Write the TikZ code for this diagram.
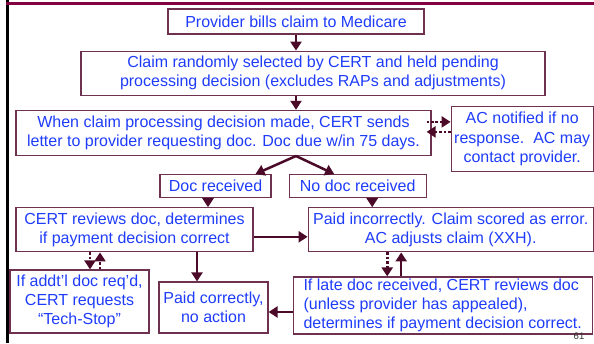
\documentclass[tikz,border=0pt]{standalone}
\usepackage{fontspec}
\setmainfont{Liberation Sans}
\usepackage{xcolor}
\usetikzlibrary{positioning,arrows.meta}
\definecolor{textblue}{RGB}{30,60,250}
\definecolor{boxline}{RGB}{110,50,80}
\definecolor{arrowcol}{RGB}{75,10,40}
\definecolor{barcol}{RGB}{128,0,64}
\tikzset{
  >={Triangle[width=11pt,length=9pt]},
}

\begin{document}
\begin{tikzpicture}[x=1pt,y=-1pt]
  \tikzset{
      action/.style={rectangle, draw=boxline, line width=1.2pt, text=textblue, inner sep=0pt, align=center, font=\fontsize{16}{19.3}\selectfont},
      myarrow/.style={draw=arrowcol, line width=2.5pt, ->},
      dotarrow/.style={myarrow, line width=2.8pt, dash pattern=on 2.6pt off 1.8pt},
  }
  \useasboundingbox (0,0) rectangle (594,343);
  % slide frame
  \draw[black, line width=3pt] (7.5,0) -- (7.5,343);
  \draw[barcol, line width=3pt] (6,3.5) -- (594,3.5);

  \node[action, minimum width=256pt, minimum height=25pt] (item1) at (296,21.5) {Provider bills claim to Medicare};
  \node[action, minimum width=464pt, minimum height=44pt, below=16pt of item1, xshift=17pt] (item2) {Claim randomly selected by CERT and held pending\\processing decision (excludes RAPs and adjustments)};
  \node[action, minimum width=415pt, minimum height=45pt, below=14pt of item2, xshift=-89.5pt] (item3) {When claim processing decision made, CERT sends\\letter to provider requesting doc. Doc due w/in 75 days.};
    \node[action, minimum width=142pt, minimum height=65pt, right=19pt of item3, yshift=-6pt] (item4) {AC notified if no\\response.\ \ AC may\\contact provider.};

  \node[action, minimum width=111pt, minimum height=23pt, below=18pt of item3, xshift=-8pt] (item5) {Doc received};
  \node[action, minimum width=137pt, minimum height=23pt, right=17pt of item5] (item6) {No doc received};

  \node[action, minimum width=237pt, minimum height=44pt, below=9pt of item5, xshift=-81pt] (item7) {CERT reviews doc, determines\\if payment decision correct};
  \node[action, minimum width=285pt, minimum height=44pt, below=9pt of item6, xshift=93pt] (item8) {Paid incorrectly. Claim scored as error.\\AC adjusts claim (XXH).};

    \node[action, minimum width=139pt, minimum height=63pt, below=17pt of item7, xshift=-55pt] (item9) {If addt'l doc req'd,\\CERT requests\\``Tech-Stop''};
    \node[action, minimum width=109pt, minimum height=51pt, below=29pt of item7, xshift=79pt] (item10) {Paid correctly,\\no action};
    \node[action, minimum width=299pt, minimum height=57pt, below=24pt of item8, xshift=-8pt, align=left] (item11) {If late doc received, CERT reviews doc\\(unless provider has appealed),\\determines if payment decision correct.};

  \node[font=\fontsize{9.5}{10}\selectfont, text=black!80, inner sep=0pt] (pagenum) at (579,336) {61};

  \coordinate (split) at (item1.south |- item3.south);

  \path[myarrow] (item1.south) -- (item1.south |- item2.north);
  \path[myarrow] (item1.south |- item2.south) -- (item1.south |- item3.north);
  \path[dotarrow] ([yshift=11pt,xshift=-5pt]item3.east) -- ([yshift=11pt]item3.east -| item4.west);
  \path[dotarrow] ([yshift=1pt]item3.east -| item4.west) -- ([yshift=1pt,xshift=-5pt]item3.east);
  \path[myarrow] (split) -- ([xshift=40pt]item5.north);
  \path[myarrow] (split) -- ([xshift=-23.5pt]item6.north);
  \path[myarrow] ([xshift=-7.5pt]item5.south) -- ([xshift=-7.5pt]item5.south |- item7.north);
  \path[myarrow] ([xshift=14.5pt]item6.south) -- ([xshift=14.5pt]item6.south |- item8.north);
  \path[myarrow] ([yshift=-7pt]item7.east) -- ([yshift=-7pt]item7.east -| item8.west);
  \path[dotarrow] ([xshift=-44.5pt]item7.south) -- ([xshift=-44.5pt]item7.south |- item9.north);
  \path[dotarrow] ([xshift=-34.5pt]item7.south |- item9.north) -- ([xshift=-34.5pt]item7.south);
  \path[myarrow] ([xshift=62.5pt]item7.south) -- ([xshift=62.5pt]item7.south |- item10.north);
  \path[myarrow] ([yshift=-4.5pt]item10.east -| item11.west) -- ([yshift=-4.5pt]item10.east);
  \path[dotarrow] ([xshift=-63.5pt]item8.south) -- ([xshift=-63.5pt]item8.south |- item11.north);
  \path[myarrow] ([xshift=-49.5pt]item8.south |- item11.north) -- ([xshift=-49.5pt]item8.south);
\end{tikzpicture}
\end{document}
